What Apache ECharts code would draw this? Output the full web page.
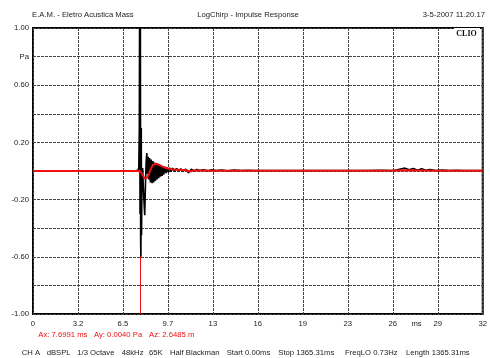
<!DOCTYPE html>
<html><head><meta charset="utf-8">
<script src="https://cdn.jsdelivr.net/npm/echarts@6/dist/echarts.min.js"></script>
<style>html,body{margin:0;padding:0;background:#fff}#c{width:490px;height:358px}</style>
</head><body><div id="c"></div>
<script>
// X tick labels (axis 0..32.4 ms, 10 divisions)
var xTickLabels = ['0','3.2','6.5','9.7','13','16','19','23','26','29','32'];
// Y tick labels for -1.00..1.00 step 0.2 (bottom to top)
var yTickLabels = ['-1.00','','-0.60','','-0.20','','0.20','','0.60','Pa','1.00'];

// Black trace: measured impulse response [ms, Pa]
var impulseTime = [0,2,4,6,7.3,7.55,7.62,7.66,7.69,7.71,7.73,7.755,7.775,7.80,7.82,7.85,7.90,7.95,8.00,8.05,8.10,8.15,8.20,8.25,8.30,8.35,8.40,8.46,8.52,8.58,8.64,8.70,8.76,8.82,8.88,8.94,9.00,9.06,9.12,9.18,9.24,9.30,9.36,9.42,9.50,9.58,9.66,9.75,9.85,9.95,10.05,10.2,10.35,10.5,10.65,10.8,11.0,11.2,11.4,11.6,11.8,12.0,12.3,12.6,12.9,13.2,13.6,14.0,14.5,15.0,15.5,16.0,17.0,18.0,19.0,20.0,21.0,22.0,23.0,24.0,25.0,26.0,26.4,26.8,27.1,27.4,27.7,28.0,28.3,28.6,29.0,29.5,30.0,30.5,31.0,31.5,32.0,32.4];
var impulseValue = [0,0,0,0,0,0.005,0.02,0.3,1.6,-0.3,1.6,-0.5,-0.60,0.3,-0.45,-0.05,0.02,-0.12,-0.22,-0.31,-0.10,0.06,0.126,-0.02,0.10,-0.06,0.09,-0.08,0.08,-0.085,0.07,-0.08,0.06,-0.07,0.05,-0.06,0.045,-0.05,0.04,-0.04,0.035,-0.035,0.03,-0.025,0.03,-0.015,0.025,-0.01,0.022,-0.005,0.02,0.0,0.018,0.002,0.015,0.0,0.012,-0.012,0.012,0.0,0.01,0.003,0.009,0.002,0.008,0.003,0.007,0.002,0.006,0.003,0.005,0.004,0.004,0.003,0.004,0.003,0.004,0.003,0.004,0.003,0.005,0.004,0.012,0.02,0.008,0.018,0.006,0.015,0.005,0.01,0.004,0.006,0.003,0.005,0.003,0.004,0.003,0.003];

// Red trace: smoothed response [ms, Pa]
var smoothTime = [0,4,7.6,7.75,7.85,7.95,8.05,8.15,8.25,8.35,8.45,8.55,8.65,8.75,8.87,9.0,9.15,9.3,9.5,9.7,10.0,10.5,11.0,11.3,11.6,12.0,13.0,14.0,16.0,18.0,20.0,22.0,24.0,26.0,27.0,28.0,29.0,30.0,32.4];
var smoothValue = [0,0,0,-0.005,-0.02,-0.038,-0.052,-0.057,-0.045,-0.02,0.005,0.027,0.042,0.05,0.052,0.048,0.04,0.032,0.024,0.018,0.012,0.008,0.005,-0.004,0.003,0.004,0.002,0.002,0.002,0.002,0.002,0.002,0.002,0.003,0.005,0.004,0.002,0.002,0.002];

var cursorX = 7.6991;

function pairs(t, v){ var r=[]; for(var i=0;i<t.length;i++) r.push([t[i],v[i]]); return r; }

var FF = '"Liberation Sans", Arial, sans-serif';
var FS = 7.7;
var chart = echarts.init(document.getElementById('c'), null, {renderer:'canvas'});
function txt(x,y,s,color,align){
  return {type:'text', x:x, y:y, style:{text:s, fill:color||'#222', font:FS+'px '+FF, textAlign:align||'left', textVerticalAlign:'middle'}};
}
chart.setOption({
  animation:false,
  backgroundColor:'#fff',
  grid:{left:33, right:5, top:28, bottom:44, show:true, borderColor:'#000', borderWidth:2, backgroundColor:'transparent'},
  xAxis:{type:'value', min:0, max:32.4, interval:3.24,
    axisLine:{show:false}, axisTick:{show:false},
    axisLabel:{margin:6, color:'#222', fontSize:FS, fontFamily:FF,
      formatter:function(v){ return xTickLabels[Math.round(v/3.24)]; }},
    splitLine:{show:true, lineStyle:{color:'#444', width:1, type:[3,1]}}},
  yAxis:{type:'value', min:-1, max:1, interval:0.2,
    axisLine:{show:false}, axisTick:{show:false},
    axisLabel:{margin:4, color:'#222', fontSize:FS, fontFamily:FF,
      formatter:function(v){ return yTickLabels[Math.round((v+1)/0.2)]; }},
    splitLine:{show:true, lineStyle:{color:'#444', width:1, type:[3,1]}}},
  series:[
    {type:'line', data:[], symbol:'none', z:2,
      markLine:{silent:true, symbol:'none', label:{show:false}, z:2,
        lineStyle:{color:'#f01010', width:1, type:'solid'},
        data:[{xAxis:cursorX}]}},
    {type:'line', data:pairs(impulseTime, impulseValue), symbol:'none', clip:true,
      lineStyle:{color:'#000', width:1.6}, z:3},
    {type:'line', data:pairs(smoothTime, smoothValue), symbol:'none', clip:true,
      lineStyle:{color:'#f01010', width:2}, z:4}
  ],
  graphic:[
    txt(32,15,'E.A.M. - Eletro Acustica Mass'),
    txt(248,15,'LogChirp - Impulse Response','#222','center'),
    txt(485,15,'3-5-2007 11.20.17','#222','right'),
    {type:'rect', shape:{x:454,y:28,width:26,height:10}, style:{fill:'#fff'}, z:10},
    {type:'text', x:466.5, y:33.5, z:11, style:{text:'CLIO', fill:'#111', font:'bold 8px "Liberation Serif", serif', textAlign:'center', textVerticalAlign:'middle'}},
    txt(416.5,324,'ms','#222','center'),
    txt(38.3,334.5,'Ax: 7.6991 ms','#f01010'),
    txt(94,334.5,'Ay: 0.0040 Pa','#f01010'),
    txt(149,334.5,'Az: 2.6485 m','#f01010'),
    txt(21.7,353,'CH A'),
    txt(46.7,353,'dBSPL'),
    txt(77.3,353,'1/3 Octave'),
    txt(121.7,353,'48kHz'),
    txt(149,353,'65K'),
    txt(170,353,'Half Blackman'),
    txt(226.7,353,'Start 0.00ms'),
    txt(278.3,353,'Stop 1365.31ms'),
    txt(345,353,'FreqLO 0.73Hz'),
    txt(406,353,'Length 1365.31ms')
  ]
});
</script></body></html>
